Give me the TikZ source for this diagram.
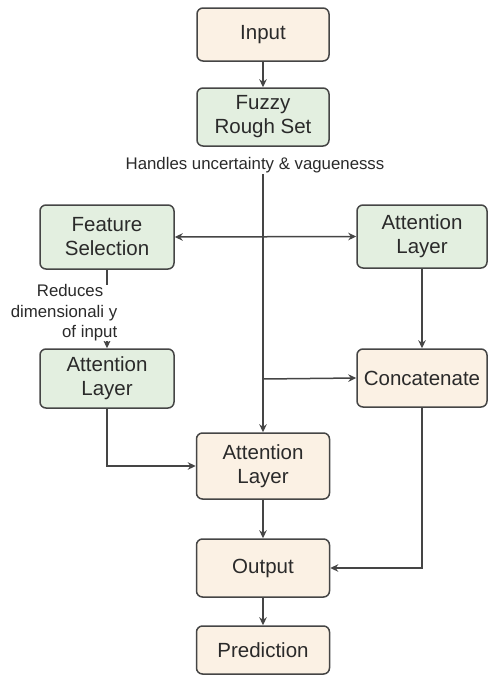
\documentclass[tikz,border=0pt]{standalone}
\usepackage{fontspec}
\setmainfont{Liberation Sans}
\usetikzlibrary{arrows.meta}
\definecolor{cream}{HTML}{FBF1E4}
\definecolor{mint}{HTML}{E3EFE0}
\definecolor{edge}{HTML}{454545}
\definecolor{ink}{HTML}{2A2A2A}
\tikzset{
  box/.style={draw=edge, line width=1.5pt, rounded corners=6pt, align=center,
    text=ink, font=\fontsize{20.5}{24}\selectfont, inner sep=0pt},
  cbox/.style={box, fill=cream},
  gbox/.style={box, fill=mint},
  lbl/.style={text=ink, font=\fontsize{16.8}{20.5}\selectfont, inner sep=1pt},
  tip/.style={-{Stealth[length=8pt,width=7.5pt]}},
  arr/.style={draw=edge, line width=1.5pt, tip},
  dbl/.style={draw=edge, line width=1.5pt, {Stealth[length=8pt,width=7.5pt]}-{Stealth[length=8pt,width=7.5pt]}}
}
\begin{document}
\begin{tikzpicture}[x=1pt,y=-1pt]
\useasboundingbox (0,0) rectangle (488,675);
\node[cbox, minimum width=132pt, minimum height=53pt] (inp) at (263,34.5) {Input};
\node[gbox, minimum width=132pt, minimum height=58pt] (frs) at (263,117) {Fuzzy\\Rough Set};
\node[lbl] (hl) at (255,165) {Handles uncertainty \& vaguenesss};
\node[gbox, minimum width=134pt, minimum height=64pt] (fs) at (107,237) {Feature\\Selection};
\node[gbox, minimum width=130pt, minimum height=63pt] (alr) at (422,236.5) {Attention\\Layer};
\node[gbox, minimum width=134pt, minimum height=59pt] (all) at (107,378.5) {Attention\\Layer};
\node[cbox, minimum width=130pt, minimum height=58pt] (cat) at (422,378) {Concatenate};
\node[cbox, minimum width=133pt, minimum height=66pt] (alc) at (263,466) {Attention\\Layer};
\node[cbox, minimum width=133pt, minimum height=58pt] (out) at (263,568) {Output};
\node[cbox, minimum width=133pt, minimum height=48pt] (pred) at (263,650) {Prediction};
\coordinate (j2) at (263,379);

\draw[arr] (inp) -- (frs);
\draw[arr] (hl.south -| frs.south) -- (alc.north -| frs.south);
\draw[dbl] (fs.east) -- (alr.west);
\draw[arr] (j2) -- (cat.west);
\draw[arr] (alr) -- (cat);
\draw[arr] (fs) -- (all);
\node[lbl, fill=white, align=right, inner sep=0pt] (red) at (64,313) {Reduces\hspace*{14pt}\\dimensionali y\\of input};
\draw[arr] (all.south) |- (alc.west);
\draw[arr] (alc) -- (out);
\draw[arr] (cat.south) |- (out.east);
\draw[arr] (out) -- (pred);
\end{tikzpicture}
\end{document}
